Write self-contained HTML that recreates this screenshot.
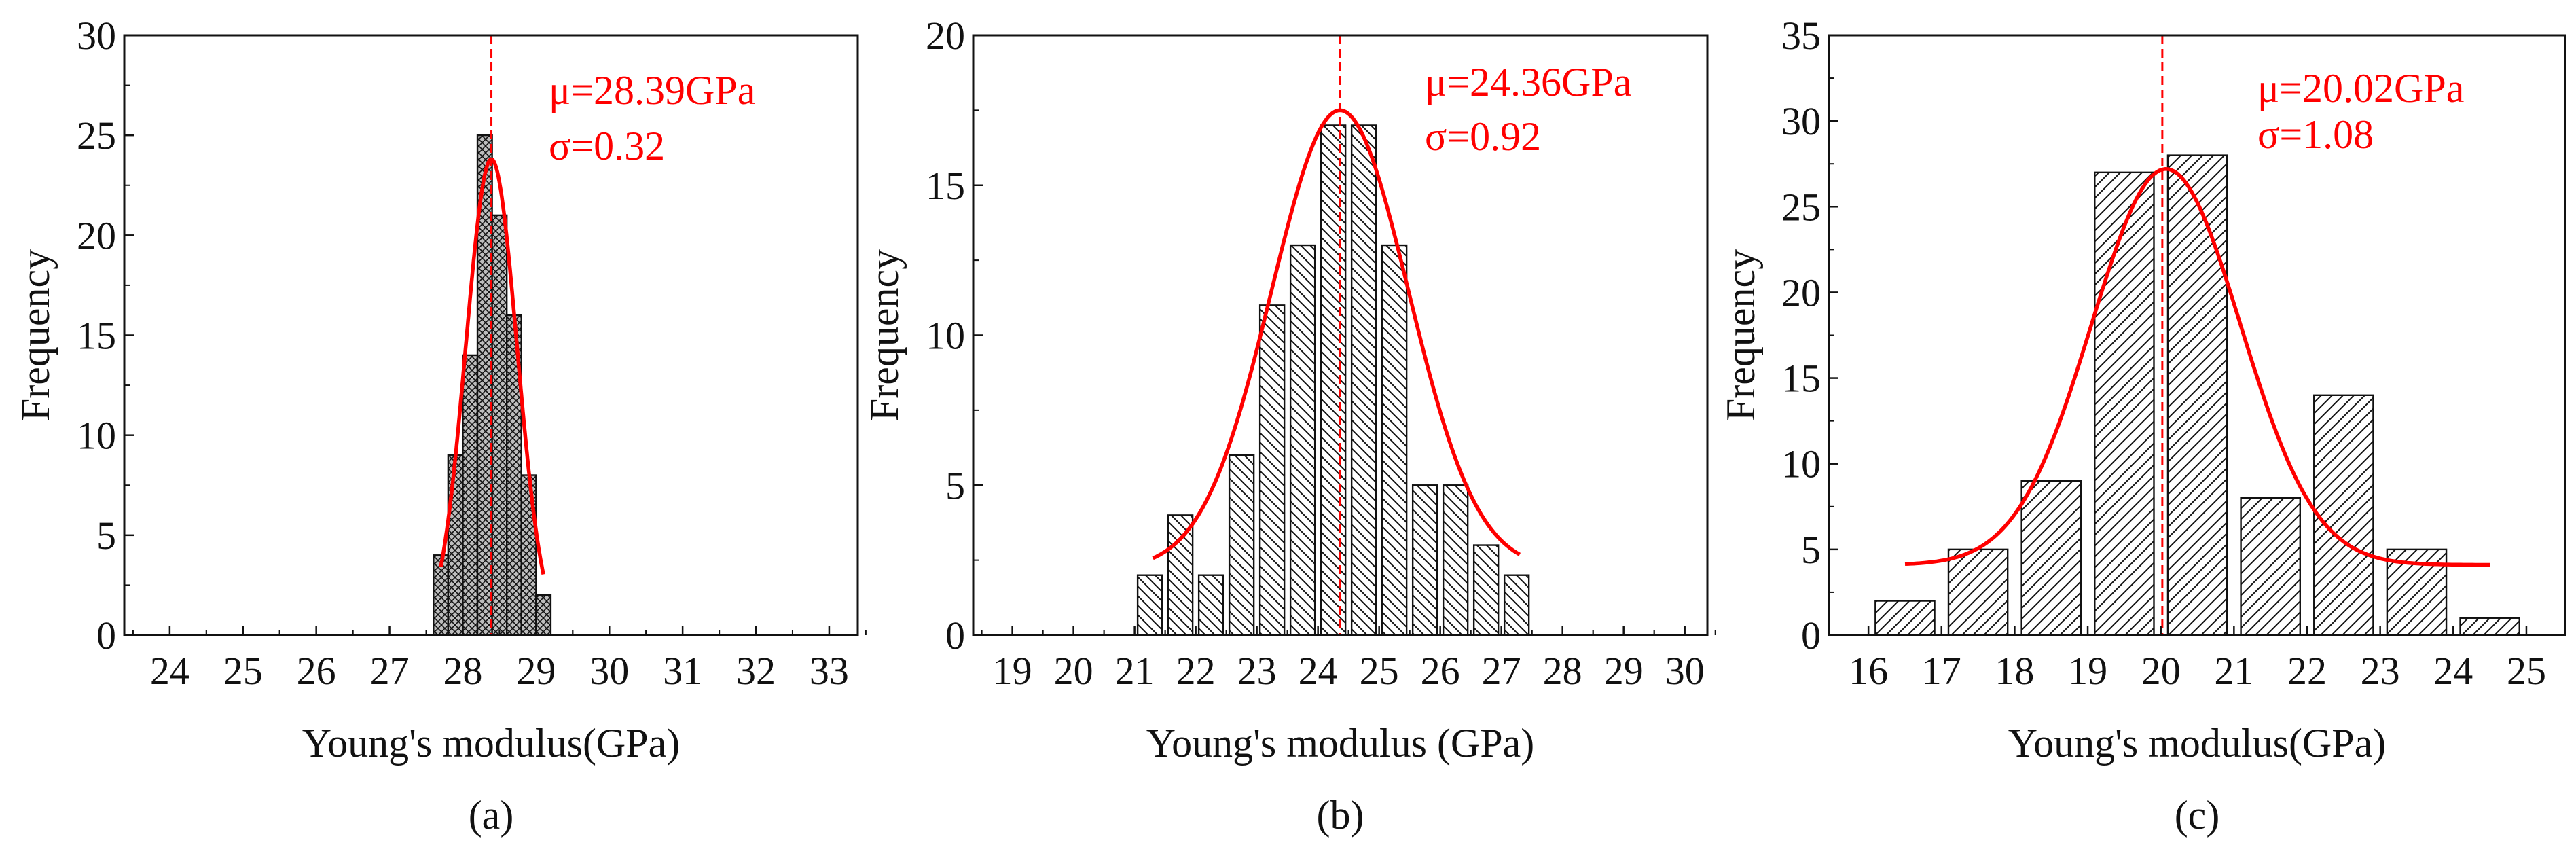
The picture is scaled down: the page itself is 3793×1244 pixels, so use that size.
<!DOCTYPE html>
<html><head><meta charset="utf-8"><style>
html,body{margin:0;padding:0;background:#fff;}
svg{display:block;}
svg text{font-family:"Liberation Serif","DejaVu Serif",serif;}
</style></head><body>
<svg id="fig" width="3793" height="1244" viewBox="0 0 3793 1244" xmlns="http://www.w3.org/2000/svg" font-family="Liberation Serif, DejaVu Serif, serif">
<defs>
<pattern id="patA" patternUnits="userSpaceOnUse" width="10" height="10">
<rect width="10" height="10" fill="#bdbdbd"/>
<path d="M0,0L10,10M10,0L0,10" stroke="#111" stroke-width="1.6"/>
</pattern>
<pattern id="patB" patternUnits="userSpaceOnUse" width="14" height="14">
<path d="M-4,-4L18,18M-4,10L4,18M10,-4L18,4" stroke="#111" stroke-width="2"/>
</pattern>
<pattern id="patC" patternUnits="userSpaceOnUse" width="16" height="16">
<path d="M-4,20L20,-4M-4,4L4,-4M12,20L20,12" stroke="#111" stroke-width="2"/>
</pattern>
</defs>
</svg>
<script>
// Panel (a)
const binsA = [27.7,27.9,28.1,28.3,28.5,28.7,28.9,29.1];
const countsA = [4,9,14,25,21,16,8,2];
const xTicksA = [24,25,26,27,28,29,30,31,32,33];
const yTicksA = [0,5,10,15,20,25,30];
const fitA = {mu:28.39, w:0.35, amp:23.8, base:0, from:27.7, to:29.1};
// Panel (b)
const binsB = [21.25,21.75,22.25,22.75,23.25,23.75,24.25,24.75,25.25,25.75,26.25,26.75,27.25];
const countsB = [2,4,2,6,11,13,17,17,13,5,5,3,2];
const xTicksB = [19,20,21,22,23,24,25,26,27,28,29,30];
const yTicksB = [0,5,10,15,20];
const fitB = {mu:24.36, w:1.12, amp:15.3, base:2.2, from:21.3, to:27.3};
// Panel (c)
const binsC = [16.5,17.5,18.5,19.5,20.5,21.5,22.5,23.5,24.5];
const countsC = [2,5,9,27,28,8,14,5,1];
const xTicksC = [16,17,18,19,20,21,22,23,24,25];
const yTicksC = [0,5,10,15,20,25,30,35];
const fitC = {mu:20.07, w:1.02, amp:23.1, base:4.1, from:16.5, to:24.5};

const NS="http://www.w3.org/2000/svg";
const svg=document.getElementById('fig');
const FF='"Liberation Serif","DejaVu Serif",serif';
function mk(tag,attrs,parent){const e=document.createElementNS(NS,tag);for(const k in attrs)e.setAttribute(k,attrs[k]);if(tag==='text')e.style.fontFamily=FF;(parent||svg).appendChild(e);return e;}

function panel(o){
  const g=mk('g',{});
  
  
  const X=v=>o.L+(v-o.x0)/(o.x1-o.x0)*(o.R-o.L);
  const Y=v=>o.B-(v-o.y0)/(o.y1-o.y0)*(o.B-o.T);
  o.bins.forEach((c,i)=>{
    const r=mk('rect',{x:X(c-o.bw/2),y:Y(o.counts[i]),width:X(c+o.bw/2)-X(c-o.bw/2),height:o.B-Y(o.counts[i]),fill:'url(#'+o.pat+')',stroke:'#111','stroke-width':2.4},g);
    
    
  });
  let d='';
  for(let k=0;k<=200;k++){const x=o.fit.from+(o.fit.to-o.fit.from)*k/200;
    const y=o.fit.base+o.fit.amp*Math.exp(-Math.pow(x-o.fit.mu,2)/(2*o.fit.w*o.fit.w));
    d+=(k?'L':'M')+X(x).toFixed(1)+','+Y(y).toFixed(1);}
  const cv=mk('path',{d:d,fill:'none',stroke:'#f00','stroke-width':5.5},g);
  
  
  const ml=mk('line',{x1:X(o.fit.mu0),x2:X(o.fit.mu0),y1:o.T,y2:o.B,stroke:'#f00','stroke-width':3,'stroke-dasharray':'13,7'},g);
  
  
  const fr=mk('rect',{x:o.L,y:o.T,width:o.R-o.L,height:o.B-o.T,fill:'none',stroke:'#111','stroke-width':3},g);
  
  
  o.xt.forEach(t=>{
    mk('line',{x1:X(t),x2:X(t),y1:o.B,y2:o.B-14,stroke:'#111','stroke-width':2.5},g);
    if(o.xminor){mk('line',{x1:X(t+0.5),x2:X(t+0.5),y1:o.B,y2:o.B-8,stroke:'#111','stroke-width':2},g);
      mk('line',{x1:X(t-0.5),x2:X(t-0.5),y1:o.B,y2:o.B-8,stroke:'#111','stroke-width':2},g);}
    const tx=mk('text',{x:X(t),y:o.B+72,'text-anchor':'middle','font-size':58,fill:'#111'},g);
    tx.textContent=t;
    
    
  });
  o.yt.forEach((t,i)=>{
    mk('line',{x1:o.L,x2:o.L+14,y1:Y(t),y2:Y(t),stroke:'#111','stroke-width':2.5},g);
    if(i<o.yt.length-1){const m=(t+o.yt[i+1])/2;mk('line',{x1:o.L,x2:o.L+8,y1:Y(m),y2:Y(m),stroke:'#111','stroke-width':2},g);}
    const ty=mk('text',{x:o.L-12,y:Y(t)+20,'text-anchor':'end','font-size':58,fill:'#111'},g);
    ty.textContent=t;
    
    
  });
  const yt=mk('text',{x:0,y:0,transform:'translate('+o.ytx+','+((o.T+o.B)/2)+') rotate(-90)','text-anchor':'middle','font-size':60,fill:'#111'},g);
  yt.textContent='Frequency';
  
  
  const xt=mk('text',{x:(o.L+o.R)/2,y:1114,'text-anchor':'middle','font-size':60,fill:'#111'},g);
  xt.textContent=o.xtitle;
  
  
  const cap=mk('text',{x:(o.L+o.R)/2,y:1220,'text-anchor':'middle','font-size':60,fill:'#111'},g);
  cap.textContent='('+o.id+')';
  
  
  const a1=mk('text',{x:o.ax,y:o.ay1,'font-size':60,fill:'#f00'},g);
  a1.textContent=o.muText;
  
  
  const a2=mk('text',{x:o.ax,y:o.ay2,'font-size':60,fill:'#f00'},g);
  a2.textContent=o.sdText;
  
  
}
fitA.mu0=28.39; fitB.mu0=24.36; fitC.mu0=20.02;
panel({id:'a',L:183,R:1263,T:52,B:935,x0:23.38,x1:33.39,y0:0,y1:30,bins:binsA,counts:countsA,bw:0.2,pat:'patA',fit:fitA,xt:xTicksA,yt:yTicksA,xminor:true,ytx:72,xtitle:"Young's modulus(GPa)",ax:808,ay1:153,ay2:235,muText:'μ=28.39GPa',sdText:'σ=0.32'});
panel({id:'b',L:1433,R:2514,T:52,B:935,x0:18.36,x1:30.37,y0:0,y1:20,bins:binsB,counts:countsB,bw:0.4,pat:'patB',fit:fitB,xt:xTicksB,yt:yTicksB,xminor:true,ytx:1322,xtitle:"Young's modulus (GPa)",ax:2098,ay1:141,ay2:221,muText:'μ=24.36GPa',sdText:'σ=0.92'});
panel({id:'c',L:2693,R:3777,T:52,B:935,x0:15.46,x1:25.53,y0:0,y1:35,bins:binsC,counts:countsC,bw:0.81,pat:'patC',fit:fitC,xt:xTicksC,yt:yTicksC,xminor:false,ytx:2583,xtitle:"Young's modulus(GPa)",ax:3324,ay1:150,ay2:218,muText:'μ=20.02GPa',sdText:'σ=1.08'});
</script>
</body></html>
